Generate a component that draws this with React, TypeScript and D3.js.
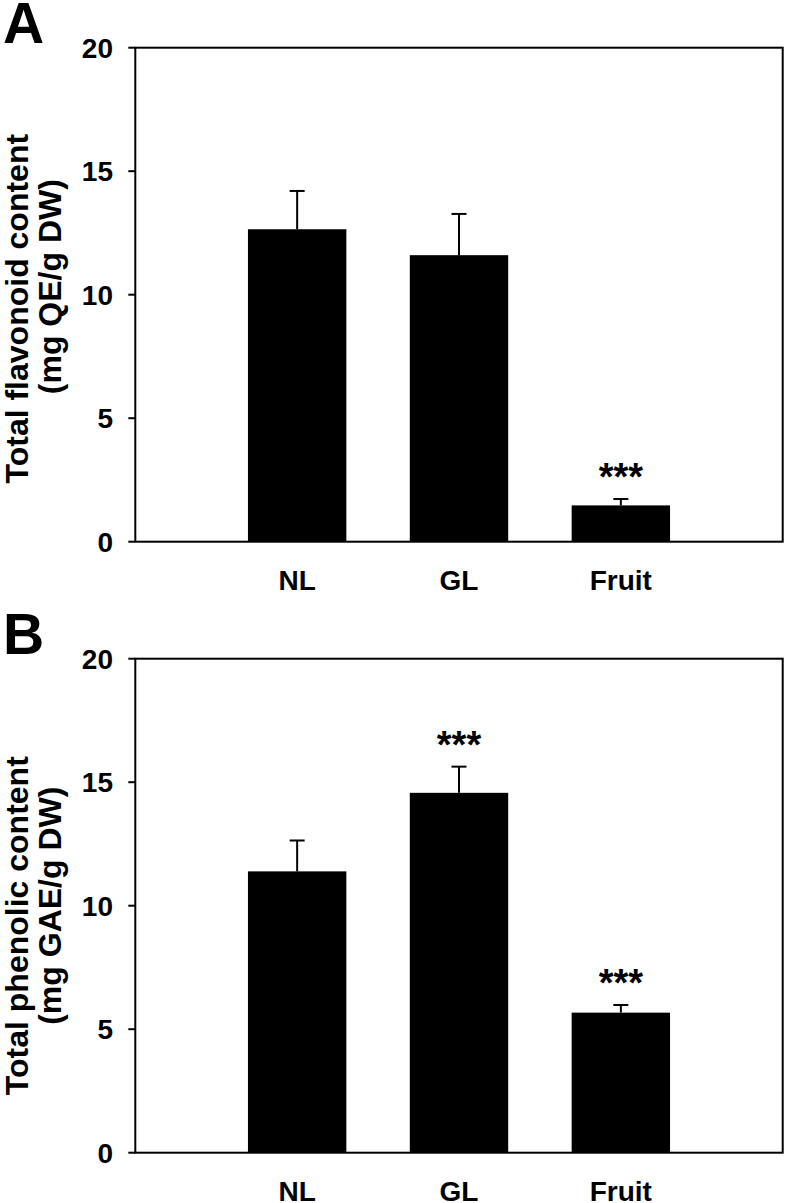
import React from "react";
import * as d3 from "d3";

const categories = ["NL", "GL", "Fruit"];
const flavonoid = [12.65, 11.6, 1.47];
const flavonoidErr = [1.55, 1.67, 0.26];
const flavonoidSig = ["", "", "***"];
const phenolic = [11.39, 14.57, 5.67];
const phenolicErr = [1.25, 1.06, 0.31];
const phenolicSig = ["", "***", "***"];
const yTicks = [0, 5, 10, 15, 20];

const W = 787;
const H = 1203;
const FONT = "'Liberation Sans', Arial, Helvetica, sans-serif";

const x = d3.scaleLinear().domain([0, 4]).range([135.3, 782.7]);
const y = d3.scaleLinear().domain([0, 20]).range([541.7, 47.7]);
const barW = 0.608;

type PanelProps = {
  dy: number;
  letter: string;
  values: number[];
  errs: number[];
  sig: string[];
  title1: string;
  title2: string;
  t1Offset: number;
  t2Offset: number;
};

function Panel({ dy, letter, values, errs, sig, title1, title2, t1Offset, t2Offset }: PanelProps) {
  const [x0, x1] = x.range();
  const [y0, y1] = y.range();
  const cy = (y0 + y1) / 2;
  return (
    <g transform={`translate(0,${dy})`}>
      <text x={3} y={43} fontFamily={FONT} fontWeight="bold" fontSize={57} fill="#000">
        {letter}
      </text>
      {values.map((v, i) => {
        const cx = i + 1;
        return (
          <rect
            key={"b" + i}
            x={x(cx - barW / 2)}
            y={y(v)}
            width={x(cx + barW / 2) - x(cx - barW / 2)}
            height={y(0) - y(v)}
            fill="#000"
          />
        );
      })}
      {values.map((v, i) => {
        const cx = x(i + 1);
        const top = y(v + errs[i]);
        return (
          <g key={"e" + i} stroke="#000" strokeWidth={2}>
            <line x1={cx} x2={cx} y1={y(v)} y2={top} />
            <line x1={cx - 7.5} x2={cx + 7.5} y1={top} y2={top} />
          </g>
        );
      })}
      {values.map((v, i) =>
        sig[i] ? (
          <text
            key={"s" + i}
            x={x(i + 1)}
            y={y(v + errs[i]) - 9}
            textAnchor="middle"
            fontFamily={FONT}
            fontWeight="bold"
            fontSize={38}
            fill="#000"
          >
            {sig[i]}
          </text>
        ) : null
      )}
      <rect x={x0} y={y1} width={x1 - x0} height={y0 - y1} fill="none" stroke="#000" strokeWidth={2} />
      {yTicks.map((t) => (
        <g key={"t" + t}>
          <line x1={x0 - 7} x2={x0} y1={y(t)} y2={y(t)} stroke="#000" strokeWidth={2} />
          <text
            x={113}
            y={y(t)}
            dy="0.36em"
            textAnchor="end"
            fontFamily={FONT}
            fontWeight="bold"
            fontSize={28}
            fill="#000"
          >
            {t}
          </text>
        </g>
      ))}
      {categories.map((c, i) => (
        <text
          key={"c" + i}
          x={x(i + 1)}
          y={y0 + 48}
          textAnchor="middle"
          fontFamily={FONT}
          fontWeight="bold"
          fontSize={28}
          fill="#000"
        >
          {c}
        </text>
      ))}
      <text
        transform={`translate(28,${cy + t1Offset}) rotate(-90)`}
        textAnchor="middle"
        fontFamily={FONT}
        fontWeight="bold"
        fontSize={32}
        fill="#000"
      >
        {title1}
      </text>
      <text
        transform={`translate(61,${cy + t2Offset}) rotate(-90)`}
        textAnchor="middle"
        fontFamily={FONT}
        fontWeight="bold"
        fontSize={32}
        fill="#000"
      >
        {title2}
      </text>
    </g>
  );
}

export default function App() {
  return (
    <svg
      width={W}
      height={H}
      viewBox={`0 0 ${W} ${H}`}
      style={{ position: "absolute", left: 0, top: 0, background: "#fff" }}
    >
      <rect x={0} y={0} width={W} height={H} fill="#fff" />
      <Panel
        dy={0}
        letter="A"
        values={flavonoid}
        errs={flavonoidErr}
        sig={flavonoidSig}
        title1="Total flavonoid content"
        title2="(mg QE/g DW)"
        t1Offset={14}
        t2Offset={-8}
      />
      <Panel
        dy={611}
        letter="B"
        values={phenolic}
        errs={phenolicErr}
        sig={phenolicSig}
        title1="Total phenolic content"
        title2="(mg GAE/g DW)"
        t1Offset={20}
        t2Offset={0}
      />
    </svg>
  );
}
